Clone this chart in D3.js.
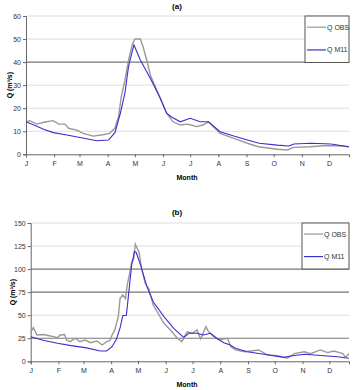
<!DOCTYPE html>
<html>
<head>
<meta charset="utf-8">
<script src="https://cdn.jsdelivr.net/npm/d3@7"></script>
<style>
body { margin: 0; background: #fff; }
text { font-family: "Liberation Sans", Arial, sans-serif; }
</style>
</head>
<body>
<div id="chart"></div>
<script>
// month labels and their start days
var monthLabels = ["J", "F", "M", "A", "M", "J", "J", "A", "S", "O", "N", "D"];
var monthDays = [0, 31, 59, 90, 120, 151, 181, 212, 243, 273, 304, 334];

// panel (a) series [day, value]
var obsA = [[0,14.1],[4,14.6],[12,13.1],[21,14],[30,14.6],[36,13.1],[43,13.1],[47,11.3],[56,10.5],[63,9.1],
  [74,7.9],[83,8.4],[92,9.1],[98,11.3],[102,16.3],[105,25],[109,32],[113,40.9],[117,47.4],[120,50],
  [126,50],[129,46.7],[133,40.9],[137,34.4],[148,24.3],[155,17.8],[162,14.1],[170,12.7],[177,13.1],
  [183,12.6],[188,12],[195,12.7],[201,14.1],[214,9.1],[229,6.9],[244,4.8],[256,3.3],[277,2.2],[288,1.9],
  [295,3.0],[313,3.3],[328,3.7],[343,3.7],[356,3.3]];
var simA = [[0,14.1],[10,12.5],[20,10.8],[30,9.4],[45,8.4],[61,7.2],[78,5.9],[91,6.2],[98,9.4],[104,17.8],
  [109,26.5],[113,38],[117,44.5],[119,47.4],[126,40.9],[137,33],[148,24.3],[155,17.8],[160,16.3],
  [170,14.1],[181,15.6],[192,14.1],[201,14.1],[214,9.8],[229,7.9],[244,6.2],[257,4.8],[277,4.0],[290,3.6],
  [295,4.5],[314,4.8],[336,4.5],[356,3.3]];

// panel (b) series [day, value]
var obsB = [[0,32],[3,36.4],[7,28.5],[14,29],[22,27.5],[30,25.6],[33,28.5],[38,29],[40,23],[44,21.3],
  [50,25],[55,21.3],[61,23],[67,20.2],[74,22],[80,17.7],[85,21.3],[89,23],[91,28.5],[94,34],[98,48.4],
  [100,68.3],[103,72],[106,68],[108,82.8],[111,97],[113,108],[115,110],[117,127],[119,122.6],[121,119],
  [124,101],[128,84.6],[132,79],[137,61],[149,41.2],[158,32],[164,25],[169,21.3],[175,32],[181,30.4],
  [186,34],[190,24.2],[196,37.5],[199,32],[205,26.7],[211,23],[220,25],[224,15.8],[229,12.3],[239,10.4],
  [255,12.3],[265,6.8],[276,6.1],[287,3.3],[295,8.3],[306,10.4],[313,8.3],[324,12.3],[332,9.4],[339,11.1],
  [349,8.3],[352,4.4],[356,8.3]];
var simB = [[0,26.7],[15,22.5],[30,19.5],[45,17],[61,14.8],[78,11.2],[85,11.2],[91,15.8],[96,24.2],[100,36.5],
  [103,49.5],[107,50],[109,68.3],[113,105],[116,119],[118,118],[123,104],[130,81],[137,64.6],[149,48.4],
  [160,35.8],[171,26],[177,30.4],[186,30.4],[193,28.5],[201,30.4],[208,25],[216,20.2],[223,17.7],
  [229,14.1],[242,10.4],[261,7.6],[283,4.3],[291,5.7],[306,7.6],[328,6.1],[343,5],[356,3.3]];

var yTicksA = [0, 10, 20, 30, 40, 50, 60];
var yTicksB = [0, 25, 50, 75, 100, 125, 150];

var svg = d3.select("#chart").append("svg")
  .attr("width", 354)
  .attr("height", 390);

function drawPanel(opt) {
  var x = d3.scaleLinear().domain([0, 356]).range([opt.left, 349]);
  var y = d3.scaleLinear().domain([0, opt.ymax]).range([opt.bottom, opt.top]);
  var g = svg.append("g");

  // gridlines
  g.selectAll(".grid").data(opt.yTicks.slice(1)).enter().append("line")
    .attr("x1", opt.left).attr("x2", 349)
    .attr("y1", d => y(d)).attr("y2", d => y(d))
    .attr("stroke", d => opt.dark.indexOf(d) >= 0 ? "#777" : "#ddd")
    .attr("stroke-width", d => opt.dark.indexOf(d) >= 0 ? 1.2 : 1);

  // axes
  var yAxis = g.append("g")
    .attr("transform", `translate(${opt.left},0)`)
    .call(d3.axisLeft(y).tickValues(opt.yTicks).tickSize(3).tickPadding(2));
  var xAxis = g.append("g")
    .attr("transform", `translate(0,${opt.bottom})`)
    .call(d3.axisBottom(x).tickValues(monthDays).tickSize(3).tickPadding(4)
      .tickFormat((d, i) => monthLabels[i]));
  [yAxis, xAxis].forEach(function(a) {
    a.select(".domain").attr("stroke", "#666");
    a.selectAll(".tick line").attr("stroke", "#666");
    a.selectAll("text").attr("fill", "#333").style("font-size", "7px")
      .style("font-family", "Liberation Sans, Arial, sans-serif");
  });

  var line = d3.line().x(d => x(d[0])).y(d => y(d[1]));
  g.append("path").datum(opt.obs).attr("d", line)
    .attr("fill", "none").attr("stroke", "#999").attr("stroke-width", 1.4);
  g.append("path").datum(opt.sim).attr("d", line)
    .attr("fill", "none").attr("stroke", "#3a2fd0").attr("stroke-width", 1.1);

  // title and axis labels
  g.append("text").attr("x", 177).attr("y", opt.titleY).attr("text-anchor", "middle")
    .style("font-size", "8px").style("font-weight", "bold").text(opt.title);
  g.append("text").attr("x", 187).attr("y", opt.monthY).attr("text-anchor", "middle")
    .style("font-size", "7px").style("font-weight", "bold").text("Month");
  g.append("text")
    .attr("transform", `translate(${opt.qX},${(opt.top + opt.bottom) / 2}) rotate(-90)`)
    .attr("text-anchor", "middle")
    .style("font-size", "7px").style("font-weight", "bold").text("Q (m³/s)");

  // legend
  var lg = g.append("g");
  lg.append("rect").attr("x", opt.lx).attr("y", opt.top).attr("width", 349 - opt.lx)
    .attr("height", opt.lh).attr("fill", "#fff").attr("stroke", "#555").attr("stroke-width", 1);
  [["Q OBS", "#999", 0.24], ["Q M11", "#3a2fd0", 0.73]].forEach(function(e) {
    var ly = opt.top + opt.lh * e[2];
    lg.append("line").attr("x1", opt.lx + 2).attr("x2", opt.lx + 21)
      .attr("y1", ly).attr("y2", ly).attr("stroke", e[1]).attr("stroke-width", 1.2);
    lg.append("text").attr("x", opt.lx + 22).attr("y", ly + 2.5)
      .style("font-size", "7px").attr("fill", "#333").text(e[0]);
  });
}

drawPanel({ title: "(a)", titleY: 9, left: 26, top: 16, bottom: 154.3, ymax: 60,
  yTicks: yTicksA, dark: [40], obs: obsA, sim: simA, monthY: 180, qX: 12,
  lx: 305, lh: 46.5 });
drawPanel({ title: "(b)", titleY: 215, left: 30.7, top: 223, bottom: 361.3, ymax: 150,
  yTicks: yTicksB, dark: [25, 75, 100], obs: obsB, sim: simB, monthY: 387, qX: 15,
  lx: 302, lh: 46 });
</script>
</body>
</html>
